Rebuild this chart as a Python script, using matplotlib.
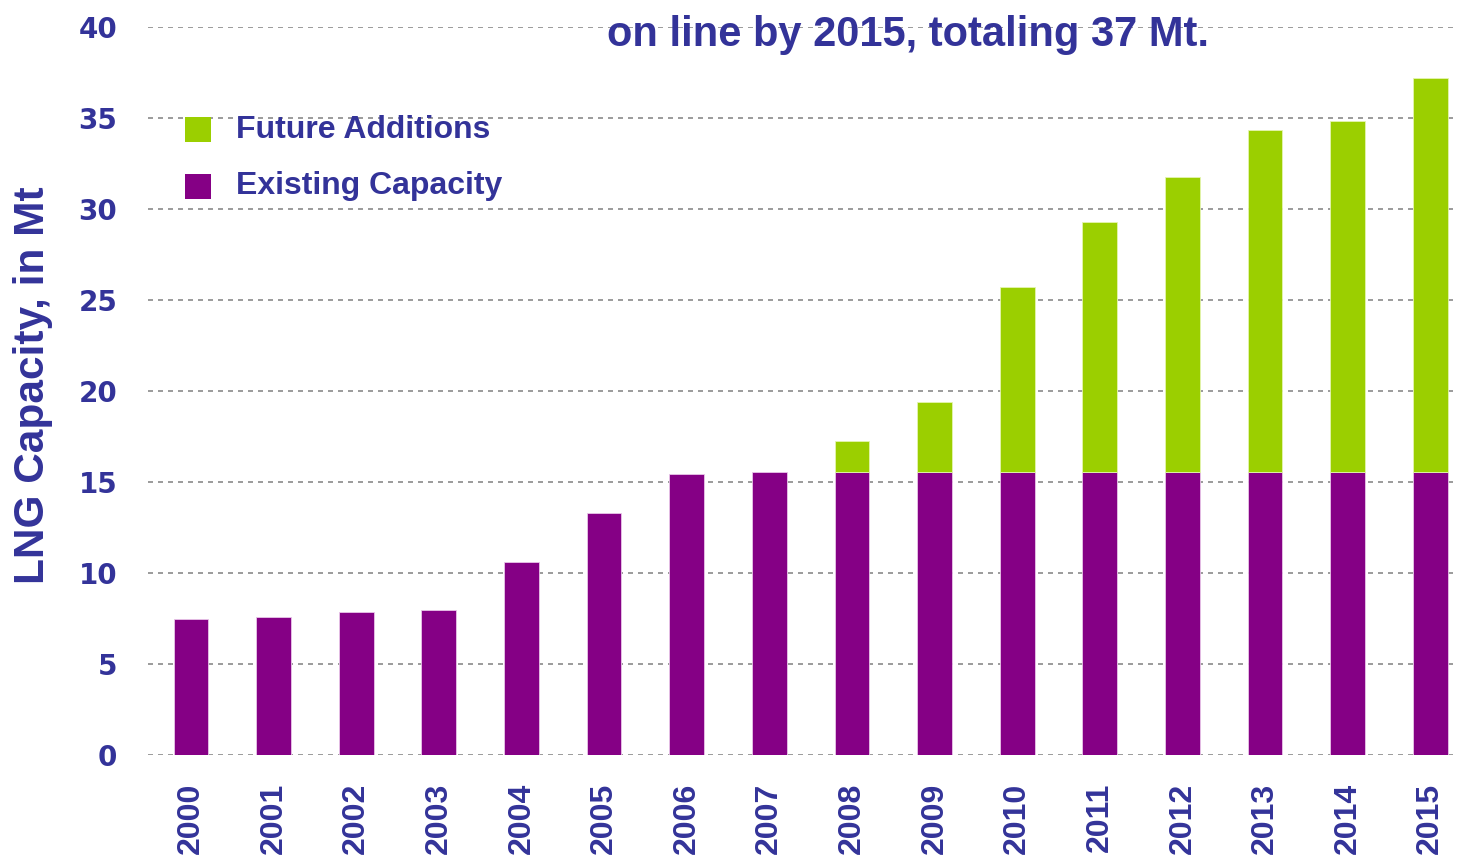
import matplotlib
matplotlib.use("Agg")
import matplotlib.pyplot as plt
import numpy as np
from matplotlib.patches import Rectangle

years = ["2000", "2001", "2002", "2003", "2004", "2005", "2006", "2007",
         "2008", "2009", "2010", "2011", "2012", "2013", "2014", "2015"]
existing = [7.5, 7.6, 7.85, 7.95, 10.6, 13.3, 15.45, 15.55,
            15.55, 15.55, 15.55, 15.55, 15.55, 15.55, 15.55, 15.55]
future = [0, 0, 0, 0, 0, 0, 0, 0,
          1.7, 3.85, 10.2, 13.75, 16.2, 18.8, 19.3, 21.65]
yticks = [0, 5, 10, 15, 20, 25, 30, 35, 40]

navy = "#333399"
purple = "#850085"
green = "#9BCF00"
arial = ["Liberation Sans", "DejaVu Sans"]

fig = plt.figure(figsize=(14.58, 8.55), dpi=100)
ax = fig.add_axes([0.1015, 0.117, 0.8965, 0.851])

x = np.arange(len(years))
ax.bar(x, existing, width=0.42, color=purple, edgecolor="#e9c6e9", linewidth=0.6, zorder=3)
ax.bar(x, future, width=0.42, bottom=existing, color=green, edgecolor="#e4f5b0",
       linewidth=[0.6 if f > 0 else 0 for f in future], zorder=3)

ax.set_xlim(-0.52, 15.3)
ax.set_ylim(0, 40)
ax.set_yticks(yticks)
ax.set_yticklabels([str(t) for t in yticks], fontsize=20, fontweight="bold",
                   color=navy, family="DejaVu Sans")
ax.set_xticks(x)
ax.set_xticklabels(years, rotation=90, fontsize=23, fontweight="bold",
                   color=navy, family=arial)
ax.tick_params(axis="y", length=0, pad=22)
ax.tick_params(axis="x", length=0, pad=20)
ax.yaxis.grid(True, linestyle=(0, (3, 3)), color="#8a8a8a", linewidth=1.2, zorder=0)
ax.set_axisbelow(True)
for s in ax.spines.values():
    s.set_visible(False)

fig.text(0.0225, 0.55, "LNG Capacity, in Mt", rotation=90, ha="center", va="center",
         fontsize=30.5, fontweight="bold", color=navy, family=arial)

fig.text(0.623, 0.959, "on line by 2015, totaling 37 Mt.", ha="center", va="center",
         fontsize=30, fontweight="bold", color=navy, family=arial)

# legend
for yy, col, lab in [(0.848, green, "Future Additions"), (0.782, purple, "Existing Capacity")]:
    fig.patches.append(Rectangle((0.1268, yy - 0.0145), 0.0178, 0.0295, transform=fig.transFigure,
                                 facecolor=col, edgecolor="none"))
    fig.text(0.162, yy, lab, ha="left", va="center", fontsize=23, fontweight="bold",
             color=navy, family=arial)

fig.savefig("out.png", dpi=100)
